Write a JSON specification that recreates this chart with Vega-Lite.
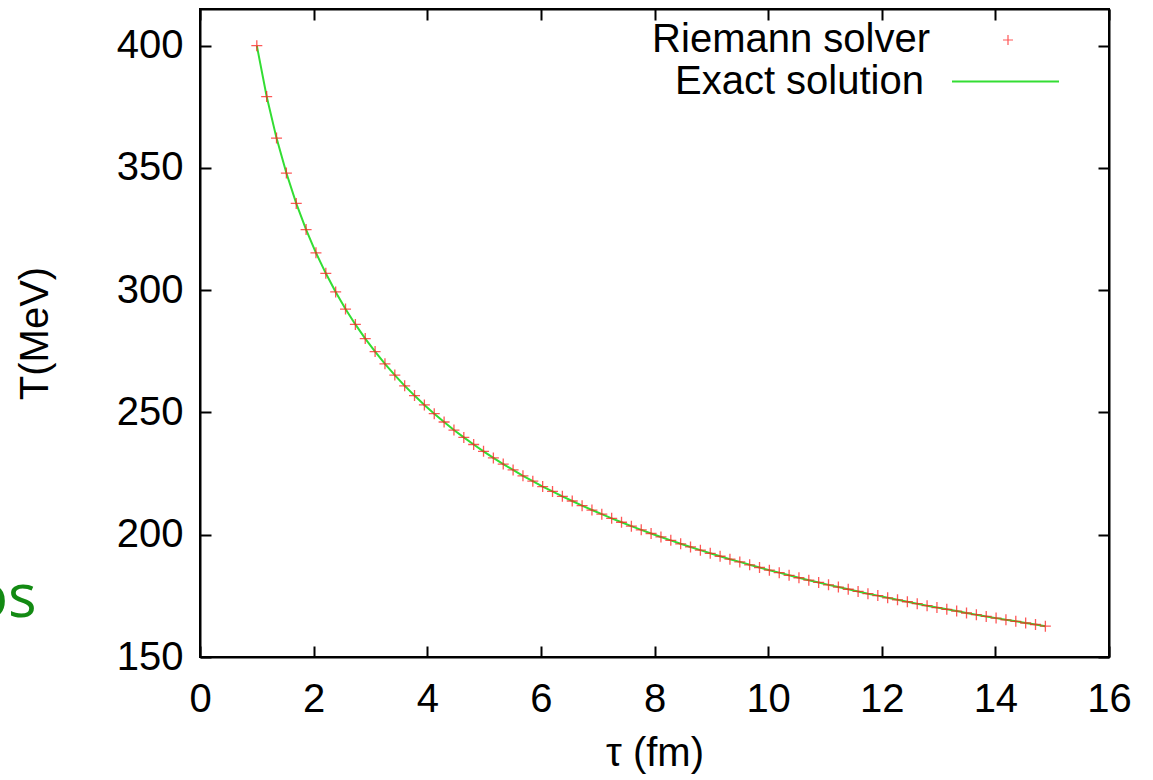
{
  "$schema": "https://vega.github.io/schema/vega-lite/v6.json",
  "width": 909,
  "height": 648,
  "autosize": {"type": "none"},
  "padding": {"left": 200, "top": 9, "right": 44, "bottom": 123},
  "background": "white",
  "title": {"text": "os", "orient": "bottom", "anchor": "start", "frame": "group", "dx": -228, "dy": -207, "color": "#138a13", "font": "Open Sans", "fontSize": 60, "fontWeight": "normal"},
  "config": {
    "font": "Liberation Sans",
    "view": {"stroke": "black", "strokeWidth": 2},
    "axis": {"labelFont": "Liberation Sans", "labelFontSize": 40, "labelColor": "black", "titleFont": "Liberation Sans", "titleFontSize": 40, "titleFontWeight": "normal", "titleColor": "black", "grid": false, "domainColor": "black", "domainWidth": 2, "tickColor": "black", "tickWidth": 2, "tickSize": -11},
    "legend": {"labelFont": "Liberation Sans", "labelFontSize": 40, "labelColor": "black", "padding": 0, "labelLimit": 0}
  },
  "data": {"values": [
    {"tau": 1.0, "T": 400.0}, {"tau": 1.1735, "T": 379.2}, {"tau": 1.347, "T": 362.2}, {"tau": 1.5205, "T": 347.9},
    {"tau": 1.694, "T": 335.5}, {"tau": 1.8675, "T": 324.8}, {"tau": 2.041, "T": 315.3}, {"tau": 2.2145, "T": 306.9},
    {"tau": 2.388, "T": 299.3}, {"tau": 2.5615, "T": 292.3}, {"tau": 2.735, "T": 286.0}, {"tau": 2.9085, "T": 280.2},
    {"tau": 3.082, "T": 274.9}, {"tau": 3.2555, "T": 269.9}, {"tau": 3.429, "T": 265.3}, {"tau": 3.6025, "T": 260.9},
    {"tau": 3.776, "T": 256.9}, {"tau": 3.9495, "T": 253.1}, {"tau": 4.123, "T": 249.5}, {"tau": 4.2965, "T": 246.1},
    {"tau": 4.47, "T": 242.8}, {"tau": 4.6435, "T": 239.8}, {"tau": 4.817, "T": 236.9}, {"tau": 4.9905, "T": 234.1},
    {"tau": 5.164, "T": 231.4}, {"tau": 5.3375, "T": 228.9}, {"tau": 5.511, "T": 226.5}, {"tau": 5.6845, "T": 224.1},
    {"tau": 5.858, "T": 221.9}, {"tau": 6.0315, "T": 219.7}, {"tau": 6.205, "T": 217.7}, {"tau": 6.3785, "T": 215.7},
    {"tau": 6.552, "T": 213.8}, {"tau": 6.7255, "T": 211.9}, {"tau": 6.899, "T": 210.1}, {"tau": 7.0725, "T": 208.4},
    {"tau": 7.246, "T": 206.7}, {"tau": 7.4195, "T": 205.1}, {"tau": 7.593, "T": 203.5}, {"tau": 7.7665, "T": 202.0},
    {"tau": 7.94, "T": 200.5}, {"tau": 8.1135, "T": 199.1}, {"tau": 8.287, "T": 197.7}, {"tau": 8.4605, "T": 196.3},
    {"tau": 8.634, "T": 195.0}, {"tau": 8.8075, "T": 193.7}, {"tau": 8.981, "T": 192.4}, {"tau": 9.1545, "T": 191.2},
    {"tau": 9.328, "T": 190.0}, {"tau": 9.5015, "T": 188.9}, {"tau": 9.675, "T": 187.7}, {"tau": 9.8485, "T": 186.6},
    {"tau": 10.022, "T": 185.5}, {"tau": 10.1955, "T": 184.5}, {"tau": 10.369, "T": 183.4}, {"tau": 10.5425, "T": 182.4},
    {"tau": 10.716, "T": 181.4}, {"tau": 10.8895, "T": 180.5}, {"tau": 11.063, "T": 179.5}, {"tau": 11.2365, "T": 178.6},
    {"tau": 11.41, "T": 177.7}, {"tau": 11.5835, "T": 176.8}, {"tau": 11.757, "T": 175.9}, {"tau": 11.9305, "T": 175.1},
    {"tau": 12.104, "T": 174.2}, {"tau": 12.2775, "T": 173.4}, {"tau": 12.451, "T": 172.6}, {"tau": 12.6245, "T": 171.8},
    {"tau": 12.798, "T": 171.0}, {"tau": 12.9715, "T": 170.2}, {"tau": 13.145, "T": 169.5}, {"tau": 13.3185, "T": 168.8},
    {"tau": 13.492, "T": 168.0}, {"tau": 13.6655, "T": 167.3}, {"tau": 13.839, "T": 166.6}, {"tau": 14.0125, "T": 165.9},
    {"tau": 14.186, "T": 165.2}, {"tau": 14.3595, "T": 164.6}, {"tau": 14.533, "T": 163.9}, {"tau": 14.7065, "T": 163.3},
    {"tau": 14.88, "T": 162.6}
  ]},
  "layer": [
    {
      "mark": {"type": "line", "strokeWidth": 2, "clip": true},
      "encoding": {
        "x": {"field": "tau", "type": "quantitative", "scale": {"domain": [0, 16], "nice": false, "zero": false},
              "axis": {"orient": "bottom", "title": "τ (fm)", "values": [0, 2, 4, 6, 8, 10, 12, 14, 16], "labelPadding": 33, "titlePadding": 14, "labelFlush": false}},
        "y": {"field": "T", "type": "quantitative", "scale": {"domain": [150, 415], "nice": false, "zero": false},
              "axis": {"orient": "left", "title": "T(MeV)", "values": [150, 200, 250, 300, 350, 400], "labelPadding": 28, "titlePadding": 61, "labelFlush": false}},
        "color": {"datum": "Exact solution", "scale": {"range": ["#33dd33"]},
                  "legend": {"orient": "none", "legendX": 751, "legendY": 18, "title": null, "symbolType": "stroke", "symbolSize": 11449, "symbolStrokeWidth": 2, "labelAlign": "right", "labelOffset": -136}}
      }
    },
    {
      "mark": {"type": "point", "shape": "M-1,0H1M0,-1V1", "filled": false, "size": 121, "strokeWidth": 1.3, "opacity": 0.75},
      "encoding": {
        "x": {"field": "tau", "type": "quantitative", "axis": {"orient": "top", "title": null, "labels": false, "values": [0, 2, 4, 6, 8, 10, 12, 14, 16]}},
        "y": {"field": "T", "type": "quantitative", "axis": {"orient": "right", "title": null, "labels": false, "values": [150, 200, 250, 300, 350, 400]}},
        "color": {"datum": "Riemann solver", "scale": {"range": ["#ff2020"]},
                  "legend": {"orient": "none", "legendX": 788, "legendY": 11, "title": null, "symbolType": "M-1,0H1M0,-1V1", "symbolSize": 100, "symbolStrokeWidth": 1.2, "symbolFillColor": "transparent", "labelAlign": "right", "labelOffset": -98}}
      }
    }
  ],
  "resolve": {"scale": {"color": "independent"}, "axis": {"x": "independent", "y": "independent"}}
}
